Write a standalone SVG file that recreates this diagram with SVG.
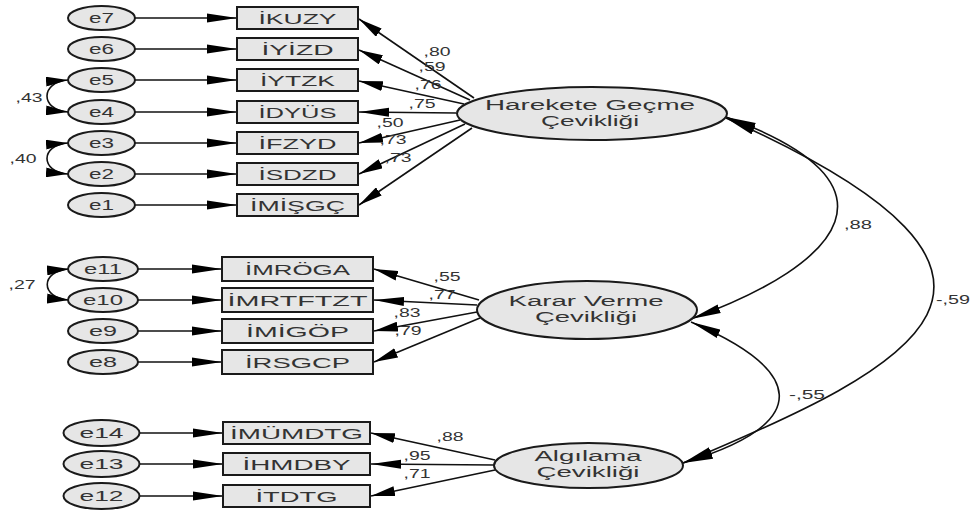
<svg xmlns="http://www.w3.org/2000/svg" width="971" height="515" viewBox="0 0 971 515">
<style>
.obs rect{fill:#e6e6e6;stroke:#1a1a1a;stroke-width:2}
.err ellipse,.lat ellipse{fill:#e6e6e6;stroke:#1a1a1a;stroke-width:2}
text{font-family:"Liberation Sans",Arial,sans-serif;fill:#333}
.t{font-size:15px;text-anchor:middle}
.l{font-size:14px;text-anchor:middle}
.n{font-size:12px;text-anchor:middle}
#connectors line,#connectors path{stroke:#111;stroke-width:1.6;fill:none}
</style>
<defs>
<marker id="ah" viewBox="0 0 30 10" refX="30" refY="5" markerWidth="30" markerHeight="10" markerUnits="userSpaceOnUse" orient="auto-start-reverse"><path d="M0,0.5 L30,5 L0,9.5 Z" fill="#000"/></marker>
<marker id="ad" viewBox="0 0 24 10" refX="24" refY="5" markerWidth="24" markerHeight="10" markerUnits="userSpaceOnUse" orient="auto-start-reverse"><path d="M0,0 L24,5 L0,10 Z" fill="#000"/></marker>
<marker id="ac" viewBox="0 0 22 10" refX="22" refY="5" markerWidth="22" markerHeight="10" markerUnits="userSpaceOnUse" orient="auto-start-reverse"><path d="M0,0 L22,5 L0,10 Z" fill="#000"/></marker>
</defs>

<g id="connectors">
<line x1="135" y1="18" x2="237" y2="18" marker-end="url(#ah)"/>
<line x1="135" y1="49" x2="237" y2="49" marker-end="url(#ah)"/>
<line x1="135" y1="80" x2="237" y2="80" marker-end="url(#ah)"/>
<line x1="135" y1="112" x2="237" y2="112" marker-end="url(#ah)"/>
<line x1="135" y1="143" x2="237" y2="143" marker-end="url(#ah)"/>
<line x1="135" y1="174" x2="237" y2="174" marker-end="url(#ah)"/>
<line x1="135" y1="205" x2="237" y2="205" marker-end="url(#ah)"/>
<line x1="138" y1="269" x2="222" y2="269" marker-end="url(#ah)"/>
<line x1="138" y1="300" x2="222" y2="300" marker-end="url(#ah)"/>
<line x1="138" y1="331" x2="222" y2="331" marker-end="url(#ah)"/>
<line x1="138" y1="362" x2="222" y2="362" marker-end="url(#ah)"/>
<line x1="140" y1="433" x2="223" y2="433" marker-end="url(#ah)"/>
<line x1="140" y1="464" x2="223" y2="464" marker-end="url(#ah)"/>
<line x1="140" y1="496" x2="223" y2="496" marker-end="url(#ah)"/>
<line x1="474" y1="98" x2="359" y2="19" marker-end="url(#ad)"/>
<line x1="470" y1="100" x2="359" y2="50" marker-end="url(#ad)"/>
<line x1="464" y1="104" x2="359" y2="81" marker-end="url(#ad)"/>
<line x1="456" y1="113" x2="359" y2="112" marker-end="url(#ah)"/>
<line x1="460" y1="120" x2="359" y2="143" marker-end="url(#ad)"/>
<line x1="465" y1="124" x2="359" y2="174" marker-end="url(#ad)"/>
<line x1="472" y1="128" x2="359" y2="205" marker-end="url(#ad)"/>
<line x1="479" y1="300" x2="374" y2="269" marker-end="url(#ad)"/>
<line x1="477" y1="305" x2="374" y2="300" marker-end="url(#ah)"/>
<line x1="477" y1="312" x2="374" y2="331" marker-end="url(#ad)"/>
<line x1="480" y1="318" x2="374" y2="362" marker-end="url(#ad)"/>
<line x1="495" y1="460" x2="371" y2="433" marker-end="url(#ad)"/>
<line x1="494" y1="465" x2="371" y2="464" marker-end="url(#ah)"/>
<line x1="495" y1="470" x2="371" y2="496" marker-end="url(#ad)"/>
<path d="M68,80 C40,82 40,110 68,112" marker-start="url(#ac)" marker-end="url(#ac)"/>
<path d="M68,143 C40,145 40,172 68,174" marker-start="url(#ac)" marker-end="url(#ac)"/>
<path d="M69,269 C40,271 40,298 69,300" marker-start="url(#ac)" marker-end="url(#ac)"/>
<path d="M726,117 C909,183 845,263 691,319" marker-start="url(#ah)" marker-end="url(#ah)"/>
<path d="M726,118 C1088,280 914,366 683,463" marker-start="url(#ah)" marker-end="url(#ah)"/>
<path d="M691,322 C801,369 819,422 683,463" marker-start="url(#ah)" marker-end="url(#ah)"/>
</g>

<g id="labels">
<text class="n" x="437" y="56" textLength="27" lengthAdjust="spacingAndGlyphs">,80</text>
<text class="n" x="432" y="71" textLength="27" lengthAdjust="spacingAndGlyphs">,59</text>
<text class="n" x="428" y="89" textLength="27" lengthAdjust="spacingAndGlyphs">,76</text>
<text class="n" x="422" y="108" textLength="27" lengthAdjust="spacingAndGlyphs">,75</text>
<text class="n" x="390" y="127" textLength="27" lengthAdjust="spacingAndGlyphs">,50</text>
<text class="n" x="393" y="144" textLength="27" lengthAdjust="spacingAndGlyphs">,73</text>
<text class="n" x="398" y="162" textLength="27" lengthAdjust="spacingAndGlyphs">,73</text>
<text class="n" x="447" y="281" textLength="27" lengthAdjust="spacingAndGlyphs">,55</text>
<text class="n" x="442" y="299" textLength="27" lengthAdjust="spacingAndGlyphs">,77</text>
<text class="n" x="407" y="317" textLength="27" lengthAdjust="spacingAndGlyphs">,83</text>
<text class="n" x="408" y="335" textLength="27" lengthAdjust="spacingAndGlyphs">,79</text>
<text class="n" x="450" y="441" textLength="27" lengthAdjust="spacingAndGlyphs">,88</text>
<text class="n" x="417" y="460" textLength="27" lengthAdjust="spacingAndGlyphs">,95</text>
<text class="n" x="417" y="478" textLength="27" lengthAdjust="spacingAndGlyphs">,71</text>
<text class="n" x="29" y="102" textLength="27" lengthAdjust="spacingAndGlyphs">,43</text>
<text class="n" x="23" y="163" textLength="27" lengthAdjust="spacingAndGlyphs">,40</text>
<text class="n" x="22" y="289" textLength="27" lengthAdjust="spacingAndGlyphs">,27</text>
<text class="n" x="858" y="229" textLength="28" lengthAdjust="spacingAndGlyphs">,88</text>
<text class="n" x="807" y="399" textLength="36" lengthAdjust="spacingAndGlyphs">-,55</text>
<text class="n" x="953" y="304" textLength="34" lengthAdjust="spacingAndGlyphs">-,59</text>
</g>

<g id="e7" class="err"><ellipse cx="101.5" cy="18" rx="33.5" ry="12"/><text class="t" x="101.5" y="23" textLength="25" lengthAdjust="spacingAndGlyphs">e7</text></g>
<g id="e6" class="err"><ellipse cx="101.5" cy="49" rx="33.5" ry="12"/><text class="t" x="101.5" y="54" textLength="25" lengthAdjust="spacingAndGlyphs">e6</text></g>
<g id="e5" class="err"><ellipse cx="101.5" cy="80" rx="33.5" ry="12"/><text class="t" x="101.5" y="85" textLength="25" lengthAdjust="spacingAndGlyphs">e5</text></g>
<g id="e4" class="err"><ellipse cx="101.5" cy="112" rx="33.5" ry="12"/><text class="t" x="101.5" y="117" textLength="25" lengthAdjust="spacingAndGlyphs">e4</text></g>
<g id="e3" class="err"><ellipse cx="101.5" cy="143" rx="33.5" ry="12"/><text class="t" x="101.5" y="148" textLength="25" lengthAdjust="spacingAndGlyphs">e3</text></g>
<g id="e2" class="err"><ellipse cx="101.5" cy="174" rx="33.5" ry="12"/><text class="t" x="101.5" y="179" textLength="25" lengthAdjust="spacingAndGlyphs">e2</text></g>
<g id="e1" class="err"><ellipse cx="101.5" cy="205" rx="33.5" ry="12"/><text class="t" x="101.5" y="210" textLength="25" lengthAdjust="spacingAndGlyphs">e1</text></g>
<g id="e11" class="err"><ellipse cx="103" cy="269" rx="35" ry="12"/><text class="t" x="103" y="274" textLength="38" lengthAdjust="spacingAndGlyphs">e11</text></g>
<g id="e10" class="err"><ellipse cx="103" cy="300" rx="35" ry="12"/><text class="t" x="103" y="305" textLength="40" lengthAdjust="spacingAndGlyphs">e10</text></g>
<g id="e9" class="err"><ellipse cx="103" cy="331" rx="35" ry="12"/><text class="t" x="103" y="336" textLength="28" lengthAdjust="spacingAndGlyphs">e9</text></g>
<g id="e8" class="err"><ellipse cx="103" cy="362" rx="35" ry="12"/><text class="t" x="103" y="367" textLength="28" lengthAdjust="spacingAndGlyphs">e8</text></g>
<g id="e14" class="err"><ellipse cx="101.5" cy="433" rx="38" ry="13"/><text class="t" x="101.5" y="438" textLength="44" lengthAdjust="spacingAndGlyphs">e14</text></g>
<g id="e13" class="err"><ellipse cx="101.5" cy="464" rx="38" ry="13"/><text class="t" x="101.5" y="469" textLength="44" lengthAdjust="spacingAndGlyphs">e13</text></g>
<g id="e12" class="err"><ellipse cx="101.5" cy="496" rx="38" ry="13"/><text class="t" x="101.5" y="501" textLength="44" lengthAdjust="spacingAndGlyphs">e12</text></g>

<g id="IKUZY" class="obs"><rect x="237" y="7" width="121" height="22"/><text class="t" x="297.5" y="23.5" textLength="78" lengthAdjust="spacingAndGlyphs">İKUZY</text></g>
<g id="IYIZD" class="obs"><rect x="237" y="38" width="121" height="22"/><text class="t" x="297.5" y="54.5" textLength="72" lengthAdjust="spacingAndGlyphs">İYİZD</text></g>
<g id="IYTZK" class="obs"><rect x="237" y="69" width="121" height="22"/><text class="t" x="297.5" y="85.5" textLength="75" lengthAdjust="spacingAndGlyphs">İYTZK</text></g>
<g id="IDYUS" class="obs"><rect x="237" y="101" width="121" height="22"/><text class="t" x="297.5" y="117.5" textLength="78" lengthAdjust="spacingAndGlyphs">İDYÜS</text></g>
<g id="IFZYD" class="obs"><rect x="237" y="132" width="121" height="22"/><text class="t" x="297.5" y="148.5" textLength="78" lengthAdjust="spacingAndGlyphs">İFZYD</text></g>
<g id="ISDZD" class="obs"><rect x="237" y="163" width="121" height="22"/><text class="t" x="297.5" y="179.5" textLength="78" lengthAdjust="spacingAndGlyphs">İSDZD</text></g>
<g id="IMISGC" class="obs"><rect x="237" y="194" width="121" height="22"/><text class="t" x="297.5" y="210.5" textLength="95" lengthAdjust="spacingAndGlyphs">İMİŞGÇ</text></g>
<g id="IMROGA" class="obs"><rect x="222" y="257" width="151" height="24"/><text class="t" x="297.5" y="274.5" textLength="105" lengthAdjust="spacingAndGlyphs">İMRÖGA</text></g>
<g id="IMRTFTZT" class="obs"><rect x="222" y="288" width="151" height="24"/><text class="t" x="297.5" y="305.5" textLength="140" lengthAdjust="spacingAndGlyphs">İMRTFTZT</text></g>
<g id="IMIGOP" class="obs"><rect x="222" y="319" width="151" height="24"/><text class="t" x="297.5" y="336.5" textLength="103" lengthAdjust="spacingAndGlyphs">İMİGÖP</text></g>
<g id="IRSGCP" class="obs"><rect x="222" y="350" width="151" height="24"/><text class="t" x="297.5" y="367.5" textLength="105" lengthAdjust="spacingAndGlyphs">İRSGCP</text></g>
<g id="IMUMDTG" class="obs"><rect x="223" y="422" width="147" height="22"/><text class="t" x="296.5" y="438.5" textLength="133" lengthAdjust="spacingAndGlyphs">İMÜMDTG</text></g>
<g id="IHMDBY" class="obs"><rect x="223" y="453" width="147" height="22"/><text class="t" x="296.5" y="469.5" textLength="108" lengthAdjust="spacingAndGlyphs">İHMDBY</text></g>
<g id="ITDTG" class="obs"><rect x="223" y="485" width="147" height="22"/><text class="t" x="296.5" y="501.5" textLength="82" lengthAdjust="spacingAndGlyphs">İTDTG</text></g>

<g id="HareketeGecme" class="lat"><ellipse cx="592" cy="113.5" rx="135" ry="26.5"/>
<text class="l" x="590" y="110" textLength="210" lengthAdjust="spacingAndGlyphs">Harekete Geçme</text>
<text class="l" x="590" y="126" textLength="98" lengthAdjust="spacingAndGlyphs">Çevikliği</text></g>
<g id="KararVerme" class="lat"><ellipse cx="587" cy="310" rx="110" ry="29"/>
<text class="l" x="586" y="306" textLength="155" lengthAdjust="spacingAndGlyphs">Karar Verme</text>
<text class="l" x="586" y="322" textLength="102" lengthAdjust="spacingAndGlyphs">Çevikliği</text></g>
<g id="Algilama" class="lat"><ellipse cx="588.5" cy="465.5" rx="94.5" ry="22.5"/>
<text class="l" x="588" y="461" textLength="107" lengthAdjust="spacingAndGlyphs">Algılama</text>
<text class="l" x="588" y="477" textLength="103" lengthAdjust="spacingAndGlyphs">Çevikliği</text></g>
</svg>
